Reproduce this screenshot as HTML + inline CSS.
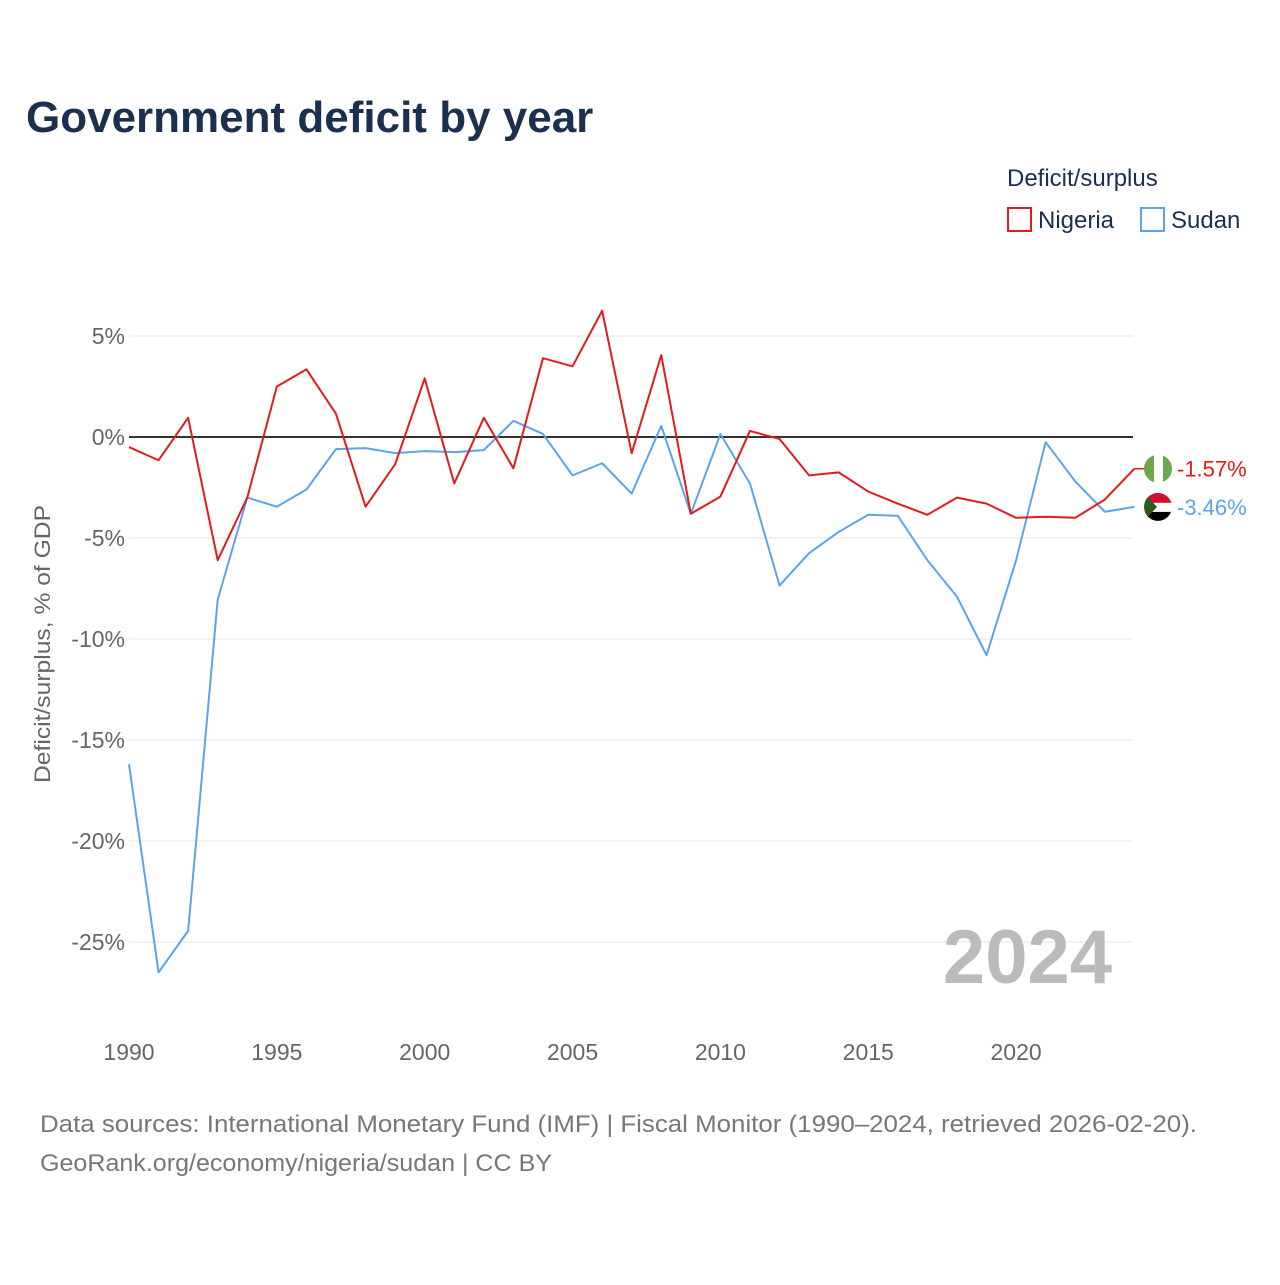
<!DOCTYPE html>
<html><head><meta charset="utf-8">
<style>
body{margin:0;background:#fff;width:1280px;height:1280px;overflow:hidden;font-family:"Liberation Sans",sans-serif}
</style></head>
<body>
<svg id="chart" width="1280" height="1280" xmlns="http://www.w3.org/2000/svg">
<text x="26" y="132" font-size="44" font-weight="bold" fill="#1b2f4f">Government deficit by year</text>
<text x="1007" y="186" font-size="24" fill="#1b2f4f">Deficit/surplus</text>
<g><rect x="1008" y="208" width="23" height="23" fill="none" stroke="#e41a1c" stroke-width="2"/><text x="1038" y="228" font-size="24" fill="#1b2f4f">Nigeria</text></g>
<g><rect x="1141" y="208" width="23" height="23" fill="none" stroke="#5aa5ea" stroke-width="2"/><text x="1171" y="228" font-size="24" fill="#1b2f4f">Sudan</text></g>
<text transform="translate(50,644) rotate(-90)" text-anchor="middle" font-size="22" fill="#666" textLength="278" lengthAdjust="spacingAndGlyphs">Deficit/surplus, % of GDP</text>
<g id="grid"></g>
<text x="1112" y="983" text-anchor="end" font-size="76" font-weight="bold" fill="#bbb">2024</text>
<g id="series"></g>
<text x="40" y="1132" font-size="24" fill="#777" textLength="1157" lengthAdjust="spacingAndGlyphs">Data sources: International Monetary Fund (IMF) | Fiscal Monitor (1990–2024, retrieved 2026-02-20).</text>
<text x="40" y="1171" font-size="24" fill="#777" textLength="512" lengthAdjust="spacingAndGlyphs">GeoRank.org/economy/nigeria/sudan | CC BY</text>
</svg>
<script>
const years=[1990,1991,1992,1993,1994,1995,1996,1997,1998,1999,2000,2001,2002,2003,2004,2005,2006,2007,2008,2009,2010,2011,2012,2013,2014,2015,2016,2017,2018,2019,2020,2021,2022,2023,2024];
const nigeria=[-0.5,-1.15,0.95,-6.1,-3.0,2.5,3.35,1.15,-3.45,-1.35,2.9,-2.3,0.95,-1.55,3.9,3.5,6.25,-0.8,4.05,-3.8,-2.95,0.3,-0.1,-1.9,-1.75,-2.7,-3.3,-3.85,-3.0,-3.3,-4.0,-3.95,-4.0,-3.1,-1.57];
const sudan=[-16.2,-26.5,-24.45,-8.05,-3.0,-3.45,-2.6,-0.6,-0.55,-0.8,-0.7,-0.75,-0.65,0.8,0.15,-1.9,-1.3,-2.8,0.55,-3.8,0.15,-2.3,-7.35,-5.75,-4.7,-3.85,-3.9,-6.1,-7.9,-10.8,-6.1,-0.25,-2.2,-3.7,-3.46];
const yTicks=[5,0,-5,-10,-15,-20,-25];
const xTicks=[1990,1995,2000,2005,2010,2015,2020];
const NS="http://www.w3.org/2000/svg";
const X=y=>129+(y-1990)*29.57;
const Y=v=>437-v*20.2;
function mk(tag,attrs,parent){const e=document.createElementNS(NS,tag);for(const k in attrs)e.setAttribute(k,attrs[k]);parent.appendChild(e);return e;}
const grid=document.getElementById('grid');
yTicks.forEach(t=>{
  const l=mk('line',{x1:129,x2:1133,y1:Y(t),y2:Y(t),stroke:t===0?'#333':'#e6e6e6','stroke-width':t===0?2:1},grid);
  
  
  const tx=mk('text',{x:125,y:Y(t)+8,'text-anchor':'end','font-size':23,fill:'#666'},grid);
  tx.textContent=t+'%';
  
  
});
xTicks.forEach(t=>{
  const tx=mk('text',{x:X(t),y:1060,'text-anchor':'middle','font-size':23,fill:'#666'},grid);
  tx.textContent=t;
  
  
});
const sg=document.getElementById('series');
function line(vals,color,name){
  const p=mk('polyline',{points:vals.map((v,i)=>X(years[i])+','+Y(v)).join(' '),fill:'none',stroke:color,'stroke-width':2,'stroke-linejoin':'round'},sg);
  
  
}
line(sudan,'#5aa5ea','sudan-line');
line(nigeria,'#e41a1c','nigeria-line');
const last=years.length-1;
const fx=1158;
const ny=Y(nigeria[last]);
mk('line',{x1:X(years[last]),x2:fx,y1:ny,y2:ny,stroke:'#e41a1c','stroke-width':1.5},sg);
const nf=mk('g',{},sg);


const cpn=mk('clipPath',{id:'cn'},nf);mk('circle',{cx:fx,cy:ny,r:14},cpn);
const ng=mk('g',{'clip-path':'url(#cn)'},nf);
mk('rect',{x:fx-14,y:ny-14,width:10,height:28,fill:'#6aa84f'},ng);
mk('rect',{x:fx-4,y:ny-14,width:9,height:28,fill:'#fff'},ng);
mk('rect',{x:fx+5,y:ny-14,width:10,height:28,fill:'#6aa84f'},ng);
const nl=mk('text',{x:1177,y:ny+8,'font-size':22,fill:'#e41a1c'},sg);
nl.textContent=nigeria[last].toFixed(2)+'%';


const sy=Y(sudan[last]);
const sf=mk('g',{},sg);


const cp=mk('clipPath',{id:'cs'},sf);mk('circle',{cx:fx,cy:sy,r:14},cp);
const sgg=mk('g',{'clip-path':'url(#cs)'},sf);
mk('rect',{x:fx-14,y:sy-14,width:28,height:10,fill:'#d21034'},sgg);
mk('rect',{x:fx-14,y:sy-4,width:28,height:9,fill:'#fff'},sgg);
mk('rect',{x:fx-14,y:sy+5,width:28,height:10,fill:'#000'},sgg);
mk('polygon',{points:`${fx-14},${sy-14} ${fx-1},${sy} ${fx-14},${sy+14}`,fill:'#2e5a1c'},sgg);
const sl=mk('text',{x:1177,y:sy+8,'font-size':22,fill:'#5aa5ea'},sg);
sl.textContent=sudan[last].toFixed(2)+'%';


</script>
</body></html>
